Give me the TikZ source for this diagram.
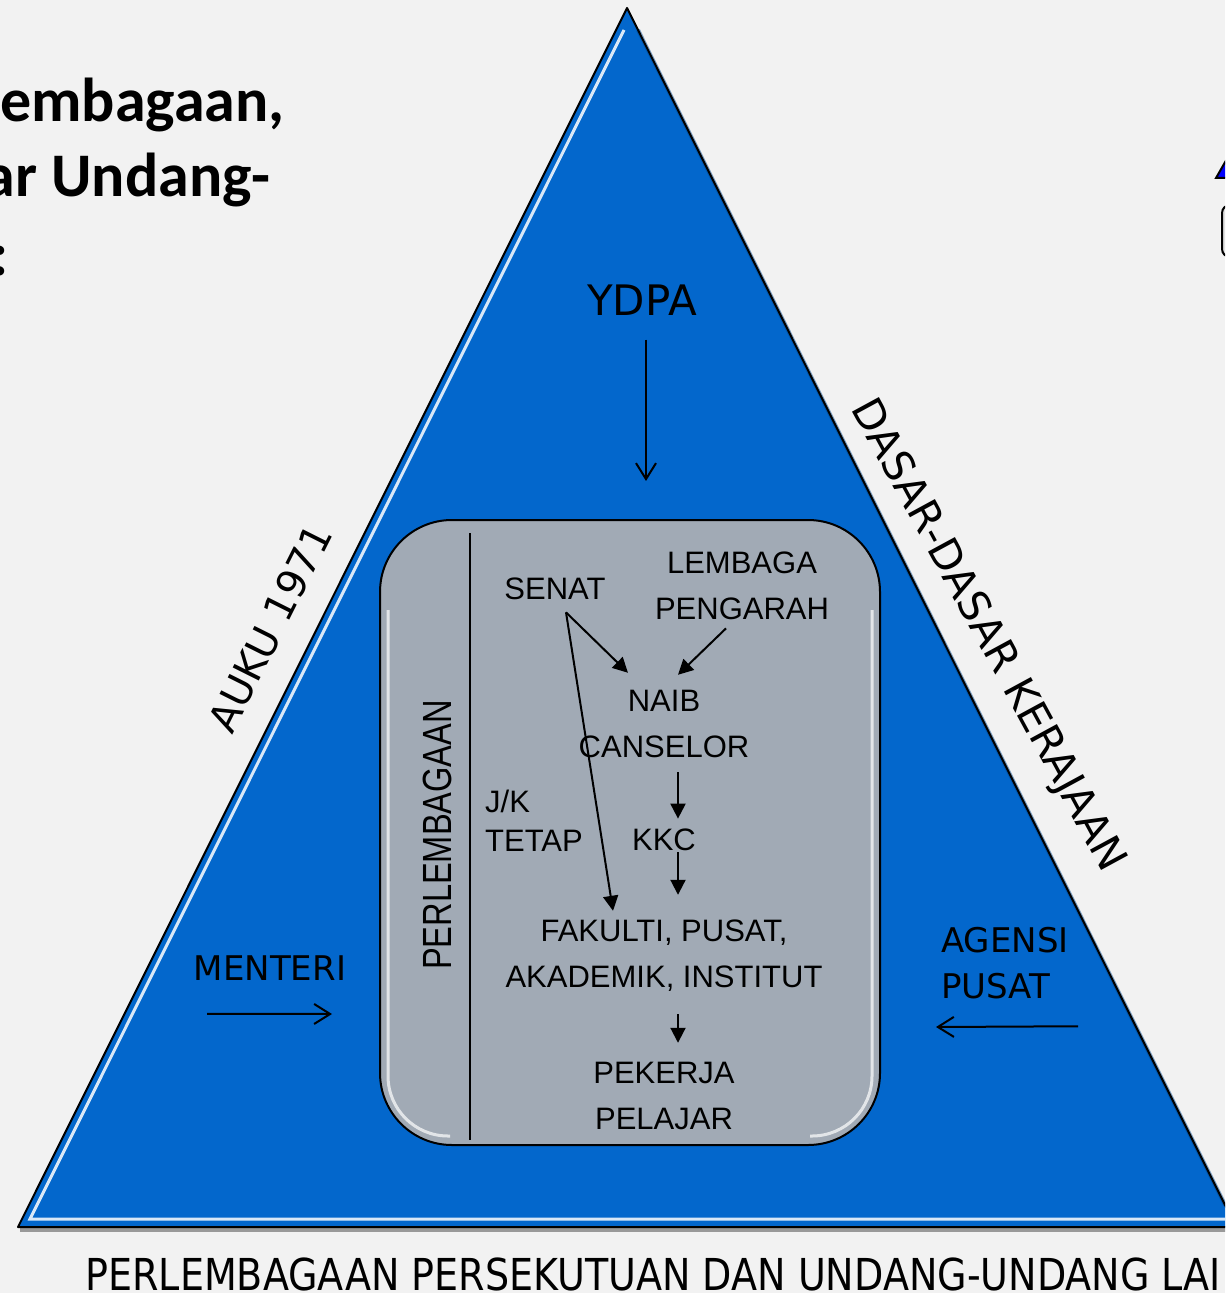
\documentclass[tikz,border=0pt]{standalone}
\usepackage{fontspec}
\usetikzlibrary{arrows.meta, positioning, calc}
\newfontfamily\innerfont{Liberation Sans}
\newfontfamily\outerfont{DejaVu Sans}
\newfontfamily\titlefont{Carlito}
\definecolor{slidebg}{RGB}{242, 242, 242}
\definecolor{pyramidblue}{RGB}{3, 103, 204}
\definecolor{panelgrey}{RGB}{161, 170, 181}
\definecolor{legendblue}{RGB}{0, 0, 255}

\begin{document}
\begin{tikzpicture}[x=0.5pt, y=-0.5pt,
    inner/.style={font=\innerfont\fontsize{15.5}{23}\selectfont, align=center, inner sep=0pt},
    outer/.style={font=\outerfont\fontsize{17}{23}\selectfont, inner sep=0pt},
    flow/.style={-{Triangle[length=7.5pt, width=7.5pt]}, line width=1pt},
    push/.style={-{Straight Barb[length=8pt, width=10pt]}, line width=1pt}]
    \useasboundingbox (0,0) rectangle (1225,1293);
    \clip (0,0) rectangle (1225,1293);
    \fill[slidebg] (0,0) rectangle (1225,1293);

    % Pyramid
    \fill[black!40] (20,1226) rectangle (1240,1232);
    \fill[pyramidblue] (627,8) -- (18,1227) -- (1236,1227) -- cycle;
    \draw[pyramidblue!70!black, opacity=0.5, line width=2pt] (1225,1205) -- (638,30);
    \draw[white, opacity=0.85, line width=1.5pt] (1225,1219) -- (30,1219) -- (624,30);
    \draw[line width=1pt, line join=round] (627,8) -- (18,1227) -- (1236,1227) -- cycle;

    % Legend bits at the right edge
    \draw[fill=legendblue, line width=1pt] (1216,178) -- (1232,150) -- (1248,178) -- cycle;
    \draw[fill=black!12, line width=1pt, rounded corners=4pt] (1222,205) rectangle (1270,257);

    % Title
    \node[font=\titlefont\bfseries\fontsize{31}{37}\selectfont, anchor=base west, inner sep=0pt] (titleA) at (0,122) {embagaan,};
    \node[font=\titlefont\bfseries\fontsize{31}{37}\selectfont, anchor=base east, inner sep=0pt] (titleB) at (271,197) {ar Undang-};
    \node[font=\titlefont\bfseries\fontsize{31}{37}\selectfont, anchor=base, inner sep=0pt] (titleC) at (0,276) {:};

    % Inner panel
    \node[draw, line width=1pt, fill=panelgrey, rounded corners=36pt, minimum width=250pt, minimum height=312.5pt] (panel) at (630,832.5) {};
    \draw[white, opacity=0.7, line width=1.5pt, rounded corners=30pt] (388,610) -- (388,1136) -- (450,1136);
    \draw[white, opacity=0.7, line width=1.5pt, rounded corners=30pt] (872,610) -- (872,1136) -- (810,1136);
    \draw[line width=1pt] (470,533) -- (470,1140);
    \node[font=\innerfont\fontsize{16.3}{20}\selectfont, rotate=90, inner sep=0pt] (perlem) at (437,835) {\scalebox{1}[1.25]{PERLEMBAGAAN}};

    % Bodies
    \node[inner] (senat) at (555,589) {SENAT};
    \node[inner] (lembaga) at (742,586) {LEMBAGA\\PENGARAH};
    \node[inner] (naib) at (664,724) {NAIB\\CANSELOR};
    \node[inner, align=left, font=\innerfont\fontsize{15.5}{19.5}\selectfont] (jk) at (534,821) {J/K\\TETAP};
    \node[inner] (kkc) at (664,840) {KKC};
    \node[inner] (fakulti) at (664,956) {FAKULTI, PUSAT,\\AKADEMIK, INSTITUT};
    \node[inner] (pekerja) at (664,1096) {PEKERJA\\PELAJAR};

    % Flow
    \draw[flow] ([shift={(11,12)}]senat.south) -- ([shift={(-36,-17)}]naib.north);
    \draw[flow] ([shift={(11,12)}]senat.south) -- ([shift={(-51,-9)}]fakulti.north);
    \draw[flow] ([shift={(-16,8)}]lembaga.south) -- ([shift={(14,-15)}]naib.north);
    \draw[flow] ([shift={(14,14)}]naib.south) -- ([shift={(14,-10)}]kkc.north);
    \draw[flow] ([shift={(14,1)}]kkc.south) -- ([shift={(14,-25)}]fakulti.north);
    \draw[flow] ([shift={(14,22)}]fakulti.south) -- ([shift={(14,-19)}]pekerja.north);

    % Outside influences
    \node[outer, font=\outerfont\fontsize{21}{26}\selectfont] (ydpa) at (642,300) {YDPA};
    \draw[push] ([shift={(4,24)}]ydpa.south) -- ([shift={(16,-38)}]panel.north);

    \node[outer] (menteri) at (270,968) {MENTERI};
    \draw[push] ([shift={(-63,33)}]menteri.south) -- ([shift={(-47,181.5)}]panel.west);

    \node[outer, align=left] (agensi) at (1005,963) {AGENSI\\PUSAT};
    \draw[push] ([shift={(73,27)}]agensi.south) -- ([shift={(55,194.5)}]panel.east);

    % Sides and base
    \node[outer, font=\outerfont\fontsize{20}{24}\selectfont, rotate=63.4] (auku) at (270,628) {AUKU 1971};
    \node[outer, font=\outerfont\fontsize{21}{24}\selectfont, rotate=-61.5] (dasar) at (987,636) {DASAR-DASAR KERAJAAN};
    \node[font=\outerfont\fontsize{22}{26}\selectfont, anchor=base west, inner sep=0pt] (basis) at (85,1290) {\scalebox{0.865}[1]{PERLEMBAGAAN PERSEKUTUAN DAN UNDANG-UNDANG LAI}};
\end{tikzpicture}
\end{document}
